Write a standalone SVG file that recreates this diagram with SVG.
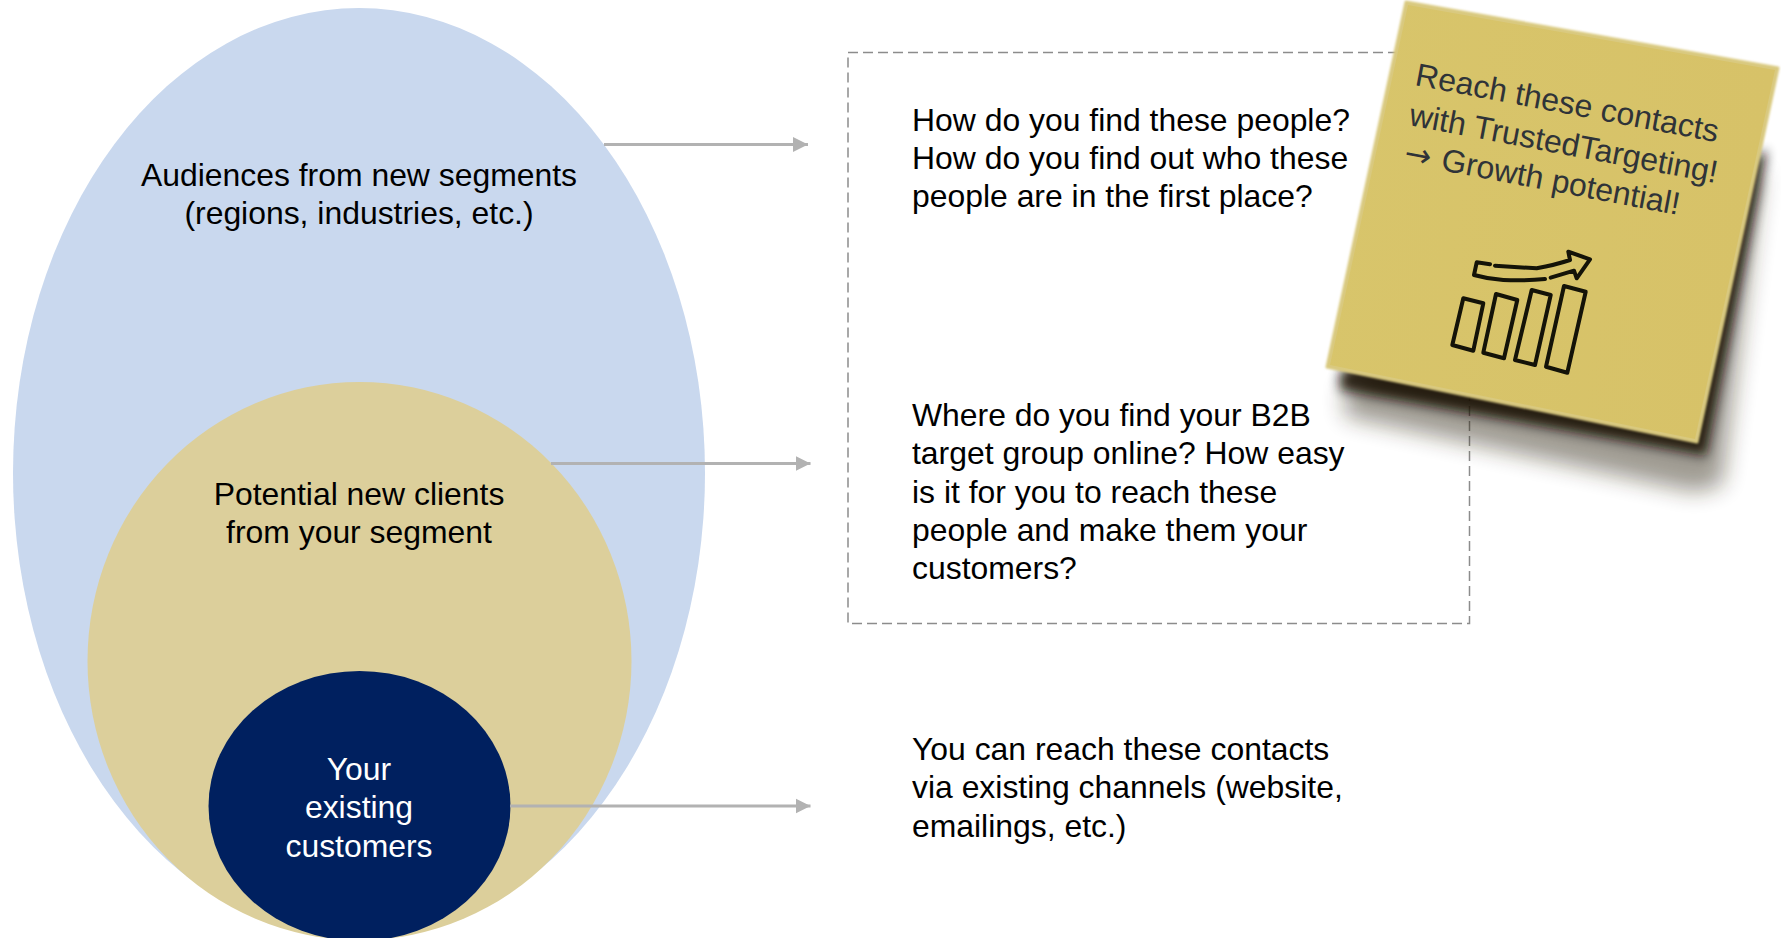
<svg xmlns="http://www.w3.org/2000/svg" width="1781" height="938" viewBox="0 0 1781 938">
<style>
text{font-family:"Liberation Sans",Arial,sans-serif;font-size:31.9px;fill:#000}
.c{text-anchor:middle}
.w{fill:#fff}
.conn{stroke:#b2b2b2;stroke-width:3;fill:none}
.n{font-size:32px;fill:#2f3338}
.ic{fill:none;stroke:#141308;stroke-width:4;stroke-linejoin:round;stroke-linecap:round}
</style>
<defs>
<marker id="ah" markerUnits="userSpaceOnUse" markerWidth="16" markerHeight="16" refX="15" refY="8" orient="auto"><path d="M0 .5L15 8L0 15.500Z" fill="#b2b2b2"/></marker>
<filter id="bl" x="-20%" y="-20%" width="140%" height="140%"><feGaussianBlur stdDeviation="11"/></filter>
<filter id="bl2" x="-20%" y="-20%" width="140%" height="140%"><feGaussianBlur stdDeviation="6"/></filter>
<filter id="edge" x="-5%" y="-5%" width="110%" height="110%"><feGaussianBlur stdDeviation="1"/></filter>
<linearGradient id="sg" x1="0" y1="0" x2="1" y2="0.12"><stop offset="0" stop-color="#d8c56b"/><stop offset="1" stop-color="#d7c268"/></linearGradient>
</defs>
<g id="outer"><ellipse cx="359" cy="473" rx="346" ry="465" fill="#c9d8ee"/><text class="c" x="359" y="186">Audiences from new segments</text><text class="c" x="359" y="224">(regions, industries, etc.)</text></g>
<g id="middle"><ellipse cx="359.500" cy="661" rx="272" ry="279" fill="#dccf9b"/><text class="c" x="359" y="505">Potential new clients</text><text class="c" x="359" y="543">from your segment</text></g>
<g id="inner"><ellipse cx="359.500" cy="806" rx="151" ry="135" fill="#00205f"/><text class="c w" x="359" y="780">Your</text><text class="c w" x="359" y="818">existing</text><text class="c w" x="359" y="857">customers</text></g>
<g id="connectors">
<line class="conn" x1="604" y1="144.500" x2="808" y2="144.500" marker-end="url(#ah)"/>
<line class="conn" x1="551" y1="463.500" x2="810.500" y2="463.500" marker-end="url(#ah)"/>
<line class="conn" x1="510" y1="806" x2="810.500" y2="806" marker-end="url(#ah)"/>
</g>
<g id="box"><rect x="848" y="52.500" width="621.500" height="571" fill="#fff" stroke="#8c8c8c" stroke-width="1.500" stroke-dasharray="10 5"/></g>
<g id="text1"><text x="912" y="131">How do you find these people?</text><text x="912" y="169">How do you find out who these</text><text x="912" y="207">people are in the first place?</text></g>
<g id="text2"><text x="912" y="426">Where do you find your B2B</text><text x="912" y="464">target group online? How easy</text><text x="912" y="503">is it for you to reach these</text><text x="912" y="541">people and make them your</text><text x="912" y="579">customers?</text></g>
<g id="text3"><text x="912" y="760">You can reach these contacts</text><text x="912" y="798">via existing channels (website,</text><text x="912" y="837">emailings, etc.)</text></g>
<g id="sticky">
<path d="M1345 385L1762 170L1722 485L1695 492L1345 416Z" fill="#2a2208" opacity=".45" filter="url(#bl)"/>
<path d="M1340 372L1767 150L1706 456L1340 390Z" fill="#140f00" opacity=".88" filter="url(#bl2)"/>
<path d="M1406 2L1778 68L1697 442L1327 367Z" fill="#d9c97f" stroke="#d9c97f" stroke-width="3" stroke-linejoin="round" filter="url(#edge)"/>
<path d="M1408 5L1775 70L1695 439L1330 365Z" fill="url(#sg)"/>
<g transform="translate(1414 85) rotate(10.700)"><text class="n" x="0" y="0">Reach these contacts</text></g>
<g transform="translate(1408 125) rotate(10.700)"><text class="n" x="0" y="0">with TrustedTargeting!</text></g>
<g transform="translate(1403 163) rotate(10.700)"><text class="n" x="0" y="0"><tspan style="font-family:'DejaVu Sans',sans-serif">→</tspan><tspan dx="2"> Growth potential!</tspan></text></g>
<g id="icon" class="ic">
<path d="M1490 264.300L1476.700 262.300L1474 275Q1488 279 1503.300 280Q1525 281 1545 279"/>
<path d="M1550.700 277.700L1574 270.700L1576.700 278.300L1590 259.300L1568.300 251.700L1570 260Q1555 265 1536.700 268.300Q1515 267 1495 265.700"/>
<path d="M1463.300 298.300L1483.300 303.300L1473.300 350.700L1452.300 345Z"/>
<path d="M1496 294L1517.300 300L1504 358.300L1483.300 352.700Z"/>
<path d="M1531.700 290L1550.700 295L1535 365L1515 360Z"/>
<path d="M1564 286L1585.700 291.700L1567.300 372.700L1546 366.700Z"/>
</g>
</g>
</svg>
